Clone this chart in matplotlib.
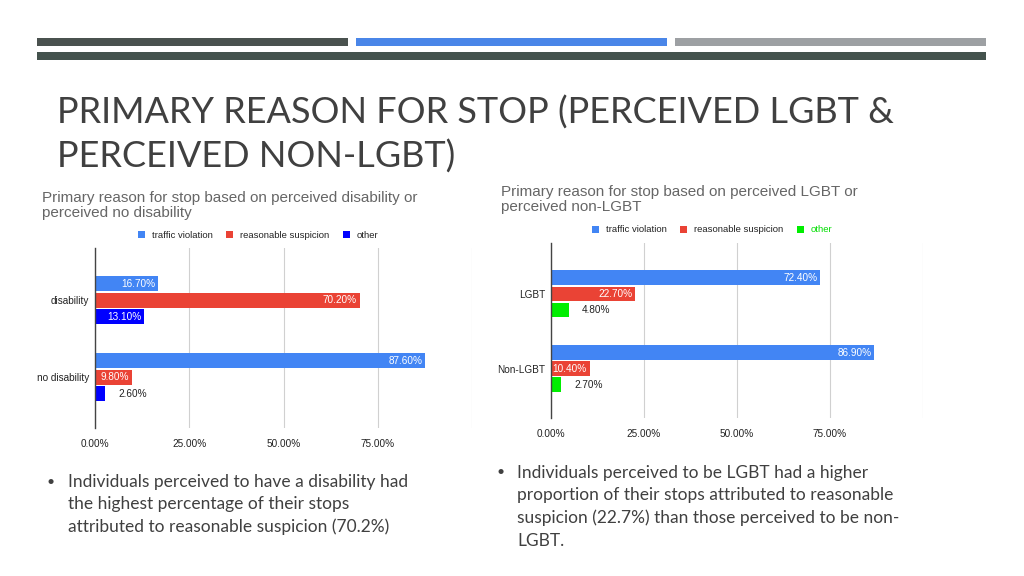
import matplotlib
matplotlib.use('Agg')
import matplotlib.pyplot as plt
from matplotlib.patches import Rectangle, Patch

# 数据
left_categories = ['disability', 'no disability']
left_traffic = [16.7, 87.6]
left_suspicion = [70.2, 9.8]
left_other = [13.1, 2.6]

right_categories = ['LGBT', 'Non-LGBT']
right_traffic = [72.4, 86.9]
right_suspicion = [22.7, 10.4]
right_other = [4.8, 2.7]

series_names = ['traffic violation', 'reasonable suspicion', 'other']
x_ticks = [0, 25, 50, 75, 100]

W, H = 1024, 576
TEXT_DARK = '#404040'
CHART_FONT = 'Liberation Sans'
SLIDE_FONT = 'Lato'


def px_rect(x0, y0, x1, y1):
    """把像素坐标转为 figure 坐标"""
    return [x0 / W, 1 - y1 / H, (x1 - x0) / W, (y1 - y0) / H]


def draw_chart(fig, rect, cats, series, colors, title_xy, legend_xy, title, other_text_color=None):
    ax = fig.add_axes(rect)
    offsets = [-0.215, 0, 0.215]
    height = 0.195
    for vals, off, col in zip(series, offsets, colors):
        ys = [i + off for i in range(len(cats))]
        bars = ax.barh(ys, vals, height=height, color=col, zorder=3)
        for b, v in zip(bars, vals):
            label = f'{v:.2f}%'
            yc = b.get_y() + b.get_height() / 2
            if v > 8:
                ax.text(v - 0.8, yc, label, ha='right', va='center', color='white',
                        fontsize=7.2, family=CHART_FONT, zorder=4)
            else:
                ax.text(v + 3.5, yc, label, ha='left', va='center', color='#222222',
                        fontsize=7.2, family=CHART_FONT, zorder=4)
    ax.set_xlim(0, 100)
    ax.set_ylim(1.66, -0.68)
    ax.set_yticks(range(len(cats)))
    ax.set_yticklabels(cats, family=CHART_FONT, fontsize=7.2, color='#222222')
    ax.set_xticks(x_ticks)
    ax.set_xticklabels([f'{t:.2f}%' if t < 100 else '' for t in x_ticks],
                       family=CHART_FONT, fontsize=7.2, color='#222222')
    ax.tick_params(axis='both', length=0)
    ax.tick_params(axis='x', pad=8)
    ax.tick_params(axis='y', pad=4)
    ax.grid(axis='x', color='#d0d0d0', linewidth=0.8, zorder=0)
    for s in ['top', 'right', 'bottom']:
        ax.spines[s].set_visible(False)
    ax.spines['left'].set_color('#444444')
    ax.spines['left'].set_linewidth(1.0)
    ax.spines['left'].set_zorder(5)

    fig.text(title_xy[0] / W, 1 - title_xy[1] / H, title, ha='left', va='top',
             fontsize=11, family=CHART_FONT, color='#666666', linespacing=1.05)

    handles = [Patch(facecolor=c, edgecolor='none') for c in colors]
    leg = ax.legend(handles, series_names, loc='center',
                    bbox_to_anchor=(legend_xy[0] / W, 1 - legend_xy[1] / H),
                    bbox_transform=fig.transFigure, ncol=3, frameon=False,
                    handlelength=0.8, handleheight=0.8, handletextpad=0.7,
                    columnspacing=1.4, prop={'family': CHART_FONT, 'size': 6.8})
    for t in leg.get_texts():
        t.set_color('#222222')
    if other_text_color:
        leg.get_texts()[2].set_color(other_text_color)
    return ax


def main():
    fig = plt.figure(figsize=(W / 100, H / 100), dpi=100)
    fig.patch.set_facecolor('white')

    # 顶部装饰条
    deco = [(37, 38, 348, 46, '#4a524f'), (356, 38, 667, 46, '#4a86e8'),
            (675, 38, 986, 46, '#9da0a3'), (37, 52, 986, 60, '#44524d')]
    for x0, y0, x1, y1, c in deco:
        fig.patches.append(Rectangle((x0 / W, 1 - y1 / H), (x1 - x0) / W, (y1 - y0) / H,
                                     transform=fig.transFigure, facecolor=c, edgecolor='none'))

    fig.text(57 / W, 1 - 96 / H, 'PRIMARY REASON FOR STOP (PERCEIVED LGBT &\nPERCEIVED NON-LGBT)',
             ha='left', va='top', fontsize=26, family=SLIDE_FONT, color=TEXT_DARK,
             linespacing=1.34)

    draw_chart(fig, px_rect(95, 248, 472, 428), left_categories,
               [left_traffic, left_suspicion, left_other],
               ['#4285f4', '#ea4335', '#0000ff'], (42, 191), (258, 235),
               'Primary reason for stop based on perceived disability or\nperceived no disability')
    draw_chart(fig, px_rect(551, 243, 923, 418), right_categories,
               [right_traffic, right_suspicion, right_other],
               ['#4285f4', '#ea4335', '#00ee00'], (501, 185), (712, 230),
               'Primary reason for stop based on perceived LGBT or\nperceived non-LGBT',
               other_text_color='#00dd00')

    # 要点文字
    fig.text(47 / W, 1 - 482 / H, '•', ha='left', va='center', fontsize=10,
             family=SLIDE_FONT, color=TEXT_DARK)
    fig.text(68 / W, 1 - 474 / H,
             'Individuals perceived to have a disability had\nthe highest percentage of their stops\n'
             'attributed to reasonable suspicion (70.2%)',
             ha='left', va='top', fontsize=12.5, family=SLIDE_FONT, color=TEXT_DARK, linespacing=1.48)
    fig.text(496 / W, 1 - 472 / H, '•', ha='left', va='center', fontsize=10,
             family=SLIDE_FONT, color=TEXT_DARK)
    fig.text(517 / W, 1 - 465 / H,
             'Individuals perceived to be LGBT had a higher\nproportion of their stops attributed to reasonable\n'
             'suspicion (22.7%) than those perceived to be non-\nLGBT.',
             ha='left', va='top', fontsize=12.5, family=SLIDE_FONT, color=TEXT_DARK, linespacing=1.48)

    fig.savefig('out.png', dpi=100, facecolor='white')


if __name__ == "__main__":
    main()
